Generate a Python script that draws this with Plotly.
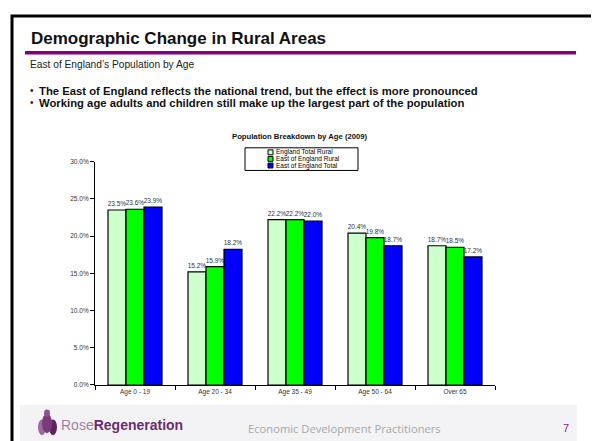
import plotly.graph_objects as go

# ---------------- data ----------------
categories = ["Age 0 - 19", "Age 20 - 34", "Age 35 - 49", "Age 50 - 64", "Over 65"]
series_names = ["England Total Rural", "East of England Rural", "East of England Total"]
england_total_rural = [23.5, 15.2, 22.2, 20.4, 18.7]
east_england_rural = [23.6, 15.9, 22.2, 19.8, 18.5]
east_england_total = [23.9, 18.2, 22.0, 18.7, 17.2]
y_tick_values = [0, 5, 10, 15, 20, 25, 30]
y_tick_labels = ["0.0%", "5.0%", "10.0%", "15.0%", "20.0%", "25.0%", "30.0%"]

series_values = [england_total_rural, east_england_rural, east_england_total]
series_colors = ["#CCFFCC", "#00FF00", "#0000FF"]

W, H = 599, 441
OFF = 8  # page body margin compensation


def px(x):
    return (x - OFF) / W


def py(y):
    return 1 - (y - OFF) / H


FONT = "Liberation Sans, Arial, sans-serif"

fig = go.Figure()
for name, vals, col in zip(series_names, series_values, series_colors):
    fig.add_trace(go.Bar(
        x=categories, y=vals, name=name,
        marker=dict(color=col, line=dict(color="#000000", width=1.2)),
        texttemplate="%{y:.1f}%", textposition="outside",
        textfont=dict(size=6.5, color="#333333", family=FONT),
        constraintext="none", cliponaxis=False, showlegend=False,
    ))

shapes = []
annotations = []

# slide border
shapes.append(dict(type="rect", xref="paper", yref="paper",
                   x0=px(12), x1=px(594), y0=py(446), y1=py(12),
                   line=dict(color="#000000", width=3), fillcolor="rgba(0,0,0,0)"))
# purple rule under title
shapes.append(dict(type="line", xref="paper", yref="paper",
                   x0=px(25), x1=px(576), y0=py(49.5), y1=py(49.5),
                   line=dict(color="#800080", width=3.5)))
# footer band
shapes.append(dict(type="rect", xref="paper", yref="paper", layer="below",
                   x0=px(20), x1=px(577), y0=py(446), y1=py(407),
                   line=dict(width=0), fillcolor="#F3F3F5"))
# logo petals
for (x0, x1, y0, y1, c) in [(38, 46, 422, 438, "#9C6A9E"), (49, 57, 422, 438, "#5E2461"),
                            (42, 52, 416, 436, "#7A3B7D"), (44, 50, 412, 419, "#8E5290")]:
    shapes.append(dict(type="circle", xref="paper", yref="paper",
                       x0=px(x0), x1=px(x1), y0=py(y1), y1=py(y0),
                       line=dict(width=0), fillcolor=c))

# legend box (manual)
shapes.append(dict(type="rect", xref="paper", yref="paper",
                   x0=px(245), x1=px(358), y0=py(169), y1=py(146),
                   line=dict(color="#000000", width=1), fillcolor="#FFFFFF"))
row_y = [150.6, 157.3, 164.0]
for name, col, ry in zip(series_names, series_colors, row_y):
    shapes.append(dict(type="rect", xref="paper", yref="paper",
                       x0=px(268), x1=px(273), y0=py(ry + 2.5), y1=py(ry - 2.5),
                       line=dict(color="#000000", width=1), fillcolor=col))
    annotations.append(dict(text=name, xref="paper", yref="paper",
                            x=px(273.5), y=py(ry), xanchor="left", yanchor="middle",
                            showarrow=False, font=dict(size=6.5, color="#000000", family=FONT)))

# slide texts
annotations.append(dict(text="<b>Demographic Change in Rural Areas</b>", xref="paper", yref="paper",
                        x=px(29), y=py(35), xanchor="left", yanchor="middle", showarrow=False,
                        font=dict(size=17, color="#111111", family=FONT)))
annotations.append(dict(text="East of England\u2019s Population by Age", xref="paper", yref="paper",
                        x=px(28), y=py(61), xanchor="left", yanchor="middle", showarrow=False,
                        font=dict(size=10.2, color="#222222", family=FONT)))
bullets = ["The East of England reflects the national trend, but the effect is more pronounced",
           "Working age adults and children still make up the largest part of the population"]
for b, by in zip(bullets, [88, 100]):
    annotations.append(dict(text="\u2022", xref="paper", yref="paper",
                            x=px(28), y=py(by), xanchor="left", yanchor="middle", showarrow=False,
                            font=dict(size=10, color="#222222", family=FONT)))
    annotations.append(dict(text="<b>" + b + "</b>", xref="paper", yref="paper",
                            x=px(37), y=py(by), xanchor="left", yanchor="middle", showarrow=False,
                            font=dict(size=11.3, color="#111111", family=FONT)))
annotations.append(dict(text="<b>Population Breakdown by Age (2009)</b>", xref="paper", yref="paper",
                        x=px(300), y=py(134), xanchor="center", yanchor="middle", showarrow=False,
                        font=dict(size=7.7, color="#111111", family=FONT)))
# footer
annotations.append(dict(text="<span style='color:#A37FA6'>Rose</span><b>Regeneration</b>",
                        xref="paper", yref="paper", x=px(59), y=py(428), xanchor="left", yanchor="middle",
                        showarrow=False, font=dict(size=14, color="#6B2D6E", family=FONT)))
annotations.append(dict(text="Economic Development Practitioners", xref="paper", yref="paper",
                        x=px(246), y=py(431), xanchor="left", yanchor="middle", showarrow=False,
                        font=dict(size=11.2, color="#A8A8A8", family="Open Sans, sans-serif")))
annotations.append(dict(text="7", xref="paper", yref="paper",
                        x=px(566), y=py(431), xanchor="center", yanchor="middle", showarrow=False,
                        font=dict(size=11, color="#8B1A8B", family=FONT)))

fig.update_layout(
    width=W, height=H,
    margin=dict(l=0, r=0, t=0, b=0),
    paper_bgcolor="#FFFFFF", plot_bgcolor="rgba(0,0,0,0)",
    font=dict(family=FONT),
    barmode="group", bargap=0.325, bargroupgap=0,
    showlegend=False,
    shapes=shapes, annotations=annotations,
    xaxis=dict(domain=[px(95), px(495)], showline=True, linecolor="#000000", linewidth=1,
               ticks="outside", tickson="boundaries", ticklen=4, tickcolor="#000000",
               tickfont=dict(size=6.5, color="#333333", family=FONT), showgrid=False, zeroline=False),
    yaxis=dict(domain=[py(387), py(160)], range=[0, 30], showline=True, linecolor="#000000", linewidth=1,
               tickvals=y_tick_values, ticktext=y_tick_labels,
               ticks="outside", ticklen=4, tickcolor="#000000",
               tickfont=dict(size=6.5, color="#333333", family=FONT), showgrid=False, zeroline=False),
)

fig.write_html("out.html")
